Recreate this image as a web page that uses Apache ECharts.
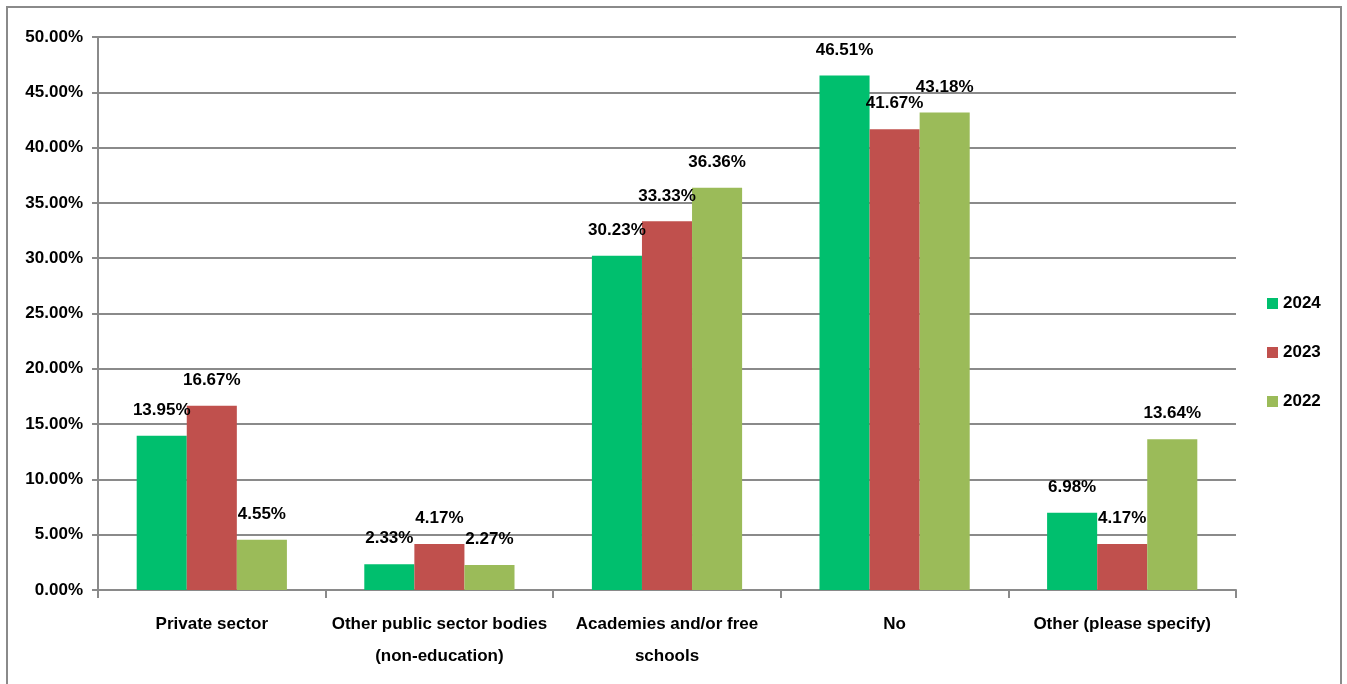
<!DOCTYPE html>
<html>
<head>
<meta charset="utf-8">
<script src="https://cdn.jsdelivr.net/npm/echarts@6/dist/echarts.min.js"></script>
<style>
  html, body { margin: 0; padding: 0; background: #fff; }
  #chart { width: 1347px; height: 684px; }
</style>
</head>
<body>
<div id="chart"></div>
<script>
const categories = [
  'Private sector',
  'Other public sector bodies\n(non-education)',
  'Academies and/or free\nschools',
  'No',
  'Other (please specify)'
];
const values2024 = [13.95, 2.33, 30.23, 46.51, 6.98];
const values2023 = [16.67, 4.17, 33.33, 41.67, 4.17];
const values2022 = [4.55, 2.27, 36.36, 43.18, 13.64];
const seriesNames = ['2024', '2023', '2022'];
const yTicks = { min: 0, max: 50, interval: 5 };

const FONT = "'Liberation Sans Narrow', 'Liberation Sans', Arial, sans-serif";
const FS = 17;
const colors = ['#00BF6E', '#C0504D', '#9BBB59'];
const pct = v => Number(v).toFixed(2) + '%';

function barSeries(name, data, color) {
  return {
    name: name,
    type: 'bar',
    data: data,
    barGap: '0%',
    barCategoryGap: '34%',
    itemStyle: { color: color },
    label: {
      show: true,
      position: 'top',
      distance: 17,
      formatter: p => pct(p.value),
      color: '#000',
      fontFamily: FONT,
      fontWeight: 'bold',
      fontSize: FS
    }
  };
}

const chart = echarts.init(document.getElementById('chart'));
chart.setOption({
  animation: false,
  color: colors,
  graphic: [{
    type: 'rect',
    shape: { x: 7, y: 7, width: 1334, height: 700 },
    style: { fill: 'none', stroke: '#8a8a8a', lineWidth: 2 },
    silent: true,
    z: -1
  }],
  grid: { left: 98, right: 111, top: 37, bottom: 94 },
  legend: {
    orient: 'vertical',
    left: 1262,
    top: 290,
    itemWidth: 11,
    itemHeight: 11,
    itemGap: 32,
    icon: 'rect',
    data: seriesNames,
    textStyle: { fontFamily: FONT, fontWeight: 'bold', fontSize: FS, color: '#000' }
  },
  xAxis: {
    type: 'category',
    data: categories,
    axisLine: { lineStyle: { color: '#8a8a8a', width: 2 } },
    axisTick: { show: true, length: 8, lineStyle: { color: '#8a8a8a', width: 2 } },
    axisLabel: {
      interval: 0,
      margin: 18,
      lineHeight: 32,
      color: '#000',
      fontFamily: FONT,
      fontWeight: 'bold',
      fontSize: FS
    }
  },
  yAxis: {
    type: 'value',
    min: yTicks.min,
    max: yTicks.max,
    interval: yTicks.interval,
    axisLine: { show: true, lineStyle: { color: '#8a8a8a', width: 2 } },
    axisTick: { show: true, length: 6, lineStyle: { color: '#8a8a8a', width: 2 } },
    splitLine: { lineStyle: { color: '#8a8a8a', width: 2 } },
    axisLabel: {
      margin: 15,
      formatter: v => pct(v),
      color: '#000',
      fontFamily: FONT,
      fontWeight: 'bold',
      fontSize: FS
    }
  },
  series: [
    barSeries(seriesNames[0], values2024, colors[0]),
    barSeries(seriesNames[1], values2023, colors[1]),
    barSeries(seriesNames[2], values2022, colors[2])
  ]
});
</script>
</body>
</html>
